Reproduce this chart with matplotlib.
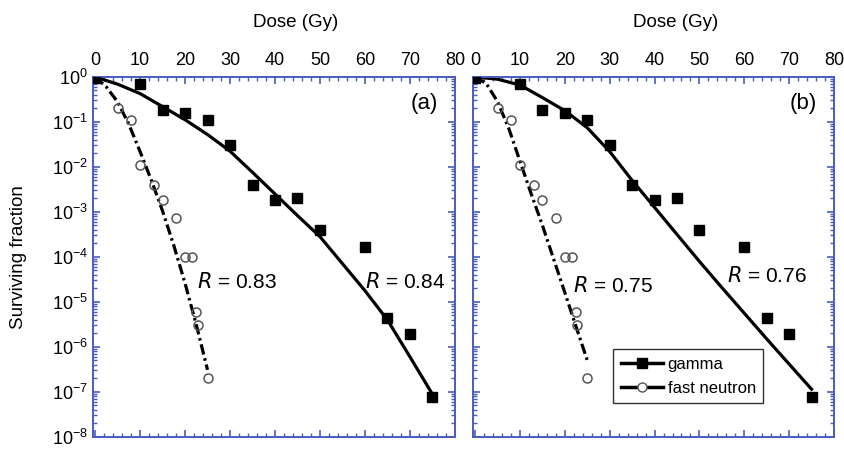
import matplotlib.pyplot as plt
from matplotlib.lines import Line2D
from matplotlib.ticker import MultipleLocator, LogLocator, NullFormatter

plt.rcParams['font.family'] = ['Liberation Sans', 'DejaVu Sans']
plt.rcParams['mathtext.default'] = 'regular'

# measured survival (same data in both panels)
gamma_dose = [0, 10, 15, 20, 25, 30, 35, 40, 45, 50, 60, 65, 70, 75]
gamma_sf = [0.95, 0.7, 0.18, 0.16, 0.11, 0.03, 0.004, 0.0018, 0.002, 4e-4,
            1.7e-4, 4.3e-6, 1.9e-6, 7.8e-8]
neutron_dose = [5, 8, 10, 13, 15, 18, 20, 21.5, 22.5, 22.8, 25]
neutron_sf = [0.2, 0.11, 0.011, 0.004, 0.0018, 7.5e-4, 1e-4, 1e-4, 6e-6, 3e-6, 2e-7]

# fitted curves
gfit_dose = [0, 5, 10, 15, 20, 25, 30, 35, 40, 45, 50, 55, 60, 65, 70, 75]
gfit_a = [1.0, 0.692, 0.427, 0.219, 0.112, 0.0525, 0.0224, 0.00759, 0.00251,
          8.3e-4, 2.82e-4, 7.08e-5, 1.78e-5, 3.98e-6, 6.03e-7, 8.91e-8]
gfit_b = [1.0, 0.891, 0.661, 0.347, 0.178, 0.0741, 0.0219, 0.00501, 0.00126,
          3.16e-4, 7.94e-5, 2.09e-5, 5.62e-6, 1.51e-6, 4.17e-7, 1.15e-7]
nfit_dose = [0, 2.5, 5, 7.5, 10, 12.5, 15, 17.5, 20, 22.5, 25]
nfit_a = [1.0, 0.60, 0.28, 0.089, 0.022, 0.0051, 0.00105, 1.8e-4, 2.6e-5, 3.1e-6, 3.1e-7]
nfit_b = [1.0, 0.71, 0.28, 0.071, 0.0132, 0.0025, 5.0e-4, 8.9e-5, 1.6e-5, 2.8e-6, 5.0e-7]

panels = ["(a)", "(b)"]
r_labels = [("0.83", "0.84"), ("0.75", "0.76")]
r_pos = [((22.6, 2.8e-5), (60, 2.8e-5)), ((21.9, 2.3e-5), (56.1, 3.7e-5))]

blue = "#4a5cc0"
dashdot = (0, (3.3, 1.2, 0.8, 1.2))

fig = plt.figure(figsize=(8.44, 4.5), dpi=100)
ax1 = fig.add_axes([0.110, 0.029, 0.429, 0.800])
ax2 = fig.add_axes([0.5604, 0.029, 0.4277, 0.800])

for i, ax in enumerate([ax1, ax2]):
    gfit = gfit_a if i == 0 else gfit_b
    nfit = nfit_a if i == 0 else nfit_b
    ax.plot(gfit_dose, gfit, color="black", lw=2.3, zorder=2)
    ax.plot(nfit_dose, nfit, color="black", lw=2.3, linestyle=dashdot,
            dash_capstyle="butt", zorder=2)
    ax.plot(gamma_dose, gamma_sf, "s", color="black", ms=7.5, zorder=3)
    ax.plot(neutron_dose, neutron_sf, "o", mfc="none", mec="#555555", mew=1.1,
            ms=6.5, zorder=3)

    ax.set_yscale("log")
    ax.set_ylim(1e-8, 1)
    ax.set_xlim(-0.5, 80)
    ax.xaxis.set_major_locator(MultipleLocator(10))
    ax.xaxis.set_minor_locator(MultipleLocator(2))
    ax.yaxis.set_major_locator(LogLocator(base=10, numticks=12))
    ax.yaxis.set_minor_locator(LogLocator(base=10, subs=range(2, 10), numticks=12))
    ax.yaxis.set_minor_formatter(NullFormatter())
    ax.xaxis.tick_top()
    ax.xaxis.set_label_position("top")
    ax.tick_params(which="both", direction="in", top=True, bottom=True,
                   left=True, right=True, color=blue, labelsize=13)
    ax.tick_params(which="major", length=5, width=1.2)
    ax.tick_params(which="minor", length=3, width=1)
    ax.tick_params(axis="x", pad=6)
    for s in ax.spines.values():
        s.set_color(blue)
        s.set_linewidth(1.4)

    ax.set_xlabel("Dose (Gy)", fontsize=13.5)
    ax.xaxis.set_label_coords(0.56, 1.14)
    ax.text(0.915, 0.925, panels[i], transform=ax.transAxes, fontsize=16,
            ha="center", va="center")
    for lab, (x, y) in zip(r_labels[i], r_pos[i]):
        ax.text(x, y, "$\\it{R}$ = " + lab, fontsize=15, ha="left", va="center")

ax1.set_ylabel("Surviving fraction", fontsize=13.5, labelpad=18)
ax2.tick_params(axis="y", labelleft=False)

handles = [
    Line2D([], [], color="black", lw=2.5, marker="s", ms=7.5),
    Line2D([], [], color="black", lw=2.5, marker="o", mfc="white",
           mec="#555555", ms=6.5),
]
leg = ax2.legend(handles, ["gamma", "fast neutron"], loc="upper left",
                 bbox_to_anchor=(0.389, 0.244), borderaxespad=0,
                 fontsize=12, frameon=True, fancybox=False, handlelength=2.5,
                 borderpad=0.45, labelspacing=0.55, handletextpad=0.3)
leg.get_frame().set_edgecolor("black")
leg.get_frame().set_linewidth(1.0)

fig.savefig("out.png", dpi=100)
